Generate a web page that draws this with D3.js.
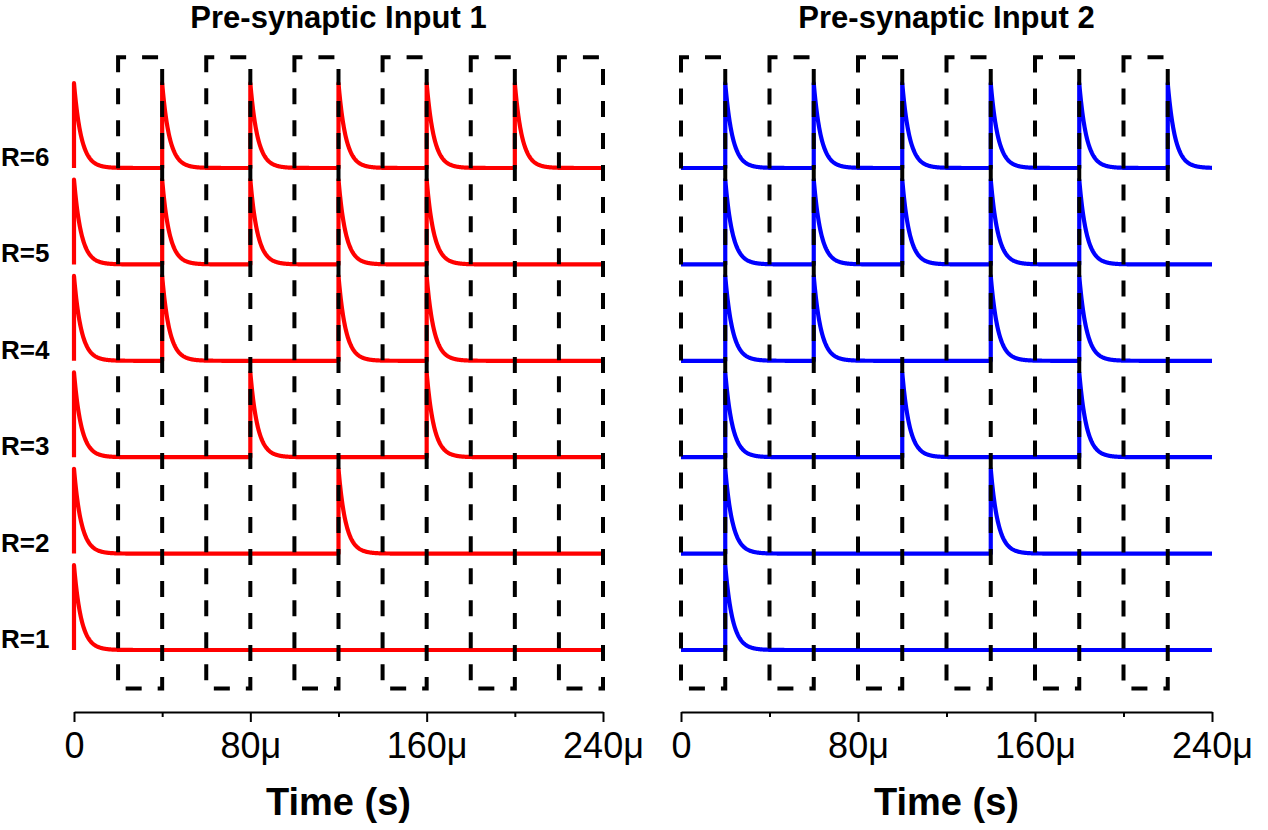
<!DOCTYPE html>
<html>
<head>
<meta charset="utf-8">
<script src="https://cdn.jsdelivr.net/npm/d3@7"></script>
<style>
  body { margin: 0; background: #fff; }
  text { font-family: "Liberation Sans", Arial, sans-serif; }
</style>
</head>
<body>
<svg id="chart" width="1268" height="830"></svg>
<script>
// spike times (microseconds) for rows R=1..R=6
var rowLabels = ['R=1', 'R=2', 'R=3', 'R=4', 'R=5', 'R=6']
var spikes1 = [
  [0],
  [0, 120],
  [0, 80, 160],
  [0, 40, 120, 160],
  [0, 40, 80, 120, 160],
  [0, 40, 80, 120, 160, 200]
]
var spikes2 = [
  [20],
  [20, 140],
  [20, 100, 180],
  [20, 60, 140, 180],
  [20, 60, 100, 140, 180],
  [20, 60, 100, 140, 180, 220]
]
// dashed windows (microseconds)
var windows1 = [[20, 40], [60, 80], [100, 120], [140, 160], [180, 200], [220, 240]]
var windows2 = [[0, 20], [40, 60], [80, 100], [120, 140], [160, 180], [200, 220]]

var tickMajor = [0, 80, 160, 240]
var tickMinor = [40, 120, 200]
var tickLabels = ['0', '80μ', '160μ', '240μ']

var amp = 0.88     // spike height in row units
var tau = 3.3      // decay constant (us)
var tEnd = 240
var winLow = -0.4, winHigh = 6.15

var svg = d3.select('#chart')

var y = d3.scaleLinear().domain([0, 5]).range([650, 168])

var panels = [
  { title: 'Pre-synaptic Input 1', spikes: spikes1, windows: windows1, color: '#ff0000', range: [74, 603] },
  { title: 'Pre-synaptic Input 2', spikes: spikes2, windows: windows2, color: '#0000ff', range: [681, 1212] }
]

// build a trace: flat baseline, instant rise at each spike, exponential decay
function trace(times, row) {
  var pts = []
  var step = 0.2
  var t = 0
  var idx = 0
  var val = 0
  var last = 0
  pts.push([0, row])
  for (t = 0; t <= tEnd + 1e-9; t += step) {
    while (idx < times.length && times[idx] <= t + 1e-9) {
      var ts = times[idx]
      var before = val * Math.exp(-(ts - last) / tau)
      pts.push([ts, row + before])
      val = before + amp
      last = ts
      pts.push([ts, row + val])
      idx++
    }
    pts.push([t, row + val * Math.exp(-(t - last) / tau)])
  }
  return pts
}

panels.forEach(function (p) {
  var x = d3.scaleLinear().domain([0, 240]).range(p.range)
  var g = svg.append('g')

  var line = d3.line().x(function (d) { return x(d[0]) }).y(function (d) { return y(d[1]) })

  // traces
  p.spikes.forEach(function (times, i) {
    g.append('path')
      .attr('d', line(trace(times, i)))
      .attr('fill', 'none')
      .attr('stroke', p.color)
      .attr('stroke-width', 4.2)
      .attr('stroke-linejoin', 'round')
  })

  // dashed windows on top
  g.selectAll('rect.win').data(p.windows).enter().append('rect')
    .attr('class', 'win')
    .attr('x', function (d) { return x(d[0]) })
    .attr('y', y(winHigh))
    .attr('width', function (d) { return x(d[1]) - x(d[0]) })
    .attr('height', y(winLow) - y(winHigh))
    .attr('fill', 'none')
    .attr('stroke', '#000')
    .attr('stroke-width', 4)
    .attr('stroke-dasharray', '16,16')
    .attr('stroke-dashoffset', 8)

  // axis
  var axisY = 712
  var ax = g.append('g').attr('transform', 'translate(0,' + axisY + ')')
    .call(d3.axisBottom(x).tickValues(tickMajor).tickSizeInner(10).tickSizeOuter(0)
      .tickFormat(function (d, i) { return tickLabels[i] }))
  ax.select('.domain').attr('stroke-width', 2)
  ax.selectAll('.tick line').attr('stroke-width', 2)
  ax.selectAll('.tick text')
    .attr('font-size', 36)
    .attr('font-family', '"Liberation Sans", Arial, sans-serif')
    .attr('y', 46).attr('dy', 0)

  var axMin = g.append('g').attr('transform', 'translate(0,' + axisY + ')')
    .call(d3.axisBottom(x).tickValues(tickMinor).tickSizeInner(5).tickSizeOuter(0).tickFormat(''))
  axMin.select('.domain').remove()
  axMin.selectAll('.tick line').attr('stroke-width', 2)

  // axis title
  g.append('text')
    .attr('x', (p.range[0] + p.range[1]) / 2)
    .attr('y', 815)
    .attr('text-anchor', 'middle')
    .attr('font-size', 38)
    .attr('font-weight', 'bold')
    .text('Time (s)')

  // panel title
  g.append('text')
    .attr('x', (p.range[0] + p.range[1]) / 2)
    .attr('y', 28)
    .attr('text-anchor', 'middle')
    .attr('font-size', 31)
    .attr('font-weight', 'bold')
    .text(p.title)
})

// row labels
svg.selectAll('text.rl').data(rowLabels).enter().append('text')
  .attr('class', 'rl')
  .attr('x', 1)
  .attr('y', function (d, i) { return y(i) - 2 })
  .attr('font-size', 26)
  .attr('font-weight', 'bold')
  .text(function (d) { return d })
</script>
</body>
</html>
